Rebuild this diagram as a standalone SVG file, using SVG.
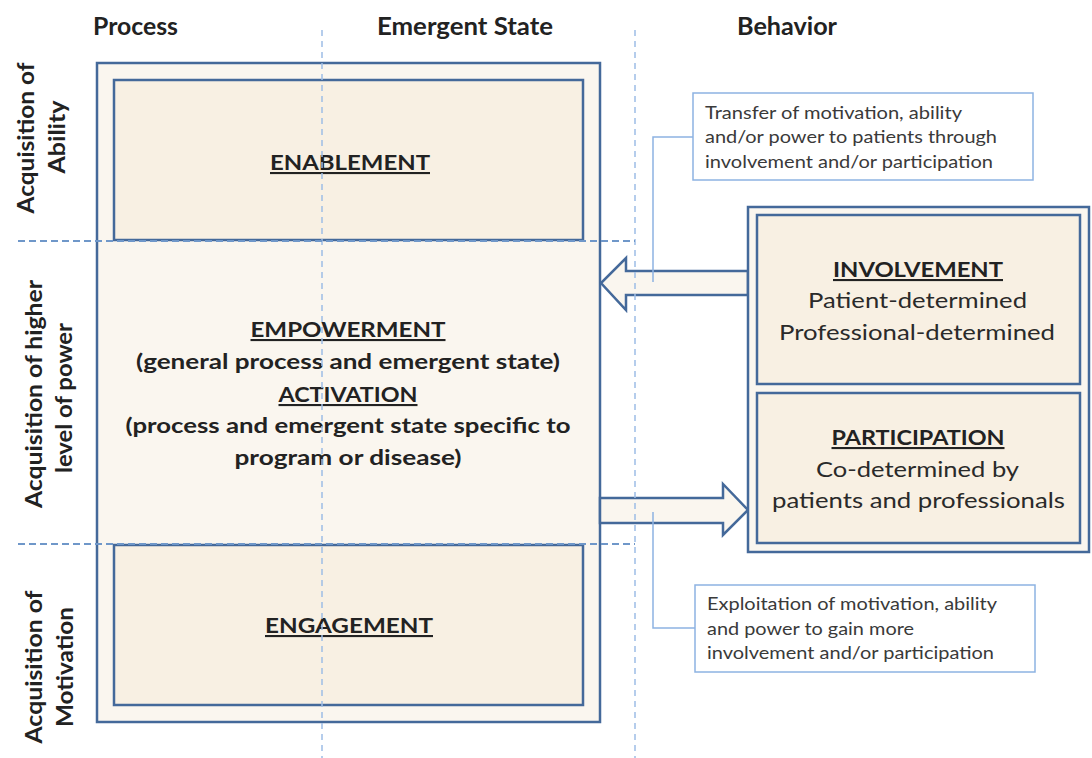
<svg xmlns="http://www.w3.org/2000/svg" width="1092" height="758" viewBox="0 0 1092 758">
<style>
  .hdr{font-family:Lato,"Liberation Sans",sans-serif;font-weight:bold;font-size:24px;fill:#222}
  .side{font-family:Lato,"Liberation Sans",sans-serif;font-weight:bold;font-size:22px;fill:#222}
  .b{font-family:Lato,"Liberation Sans",sans-serif;font-weight:bold;font-size:21px;fill:#222;text-anchor:middle}
  .u{text-decoration:underline}
  .r{font-family:Lato,"Liberation Sans",sans-serif;font-size:22px;fill:#2a2a2a;text-anchor:middle}
  .c{font-family:Lato,"Liberation Sans",sans-serif;font-size:16.5px;fill:#3a3a3a}
  .box{stroke:#44699a;stroke-width:2.5}
  .outer{fill:#faf6ef}
  .inner{fill:#f8f0e3}
  .call{fill:#ffffff;stroke:#8db3e2;stroke-width:1.5}
  .lead{fill:none;stroke:#8db3e2;stroke-width:1.5}
  .arrow{fill:#faf6ef;stroke:#44699a;stroke-width:2.5;stroke-linejoin:miter}
  .vdash{stroke:#9dbde6;stroke-width:1.5;stroke-dasharray:6 5;fill:none}
  .hdash{stroke:#6f97c9;stroke-width:1.8;stroke-dasharray:7 4;fill:none}
</style>

<g id="headers">
  <text class="hdr" x="93" y="35" textLength="85" lengthAdjust="spacingAndGlyphs">Process</text>
  <text class="hdr" x="377" y="35" textLength="176" lengthAdjust="spacingAndGlyphs">Emergent State</text>
  <text class="hdr" x="737" y="35" textLength="100" lengthAdjust="spacingAndGlyphs">Behavior</text>
</g>

<g id="row-labels">
  <text class="side" text-anchor="middle" transform="translate(34,138) rotate(-90)" textLength="151" lengthAdjust="spacingAndGlyphs">Acquisition of</text>
  <text class="side" text-anchor="middle" transform="translate(65,137) rotate(-90)" textLength="73" lengthAdjust="spacingAndGlyphs">Ability</text>
  <text class="side" text-anchor="middle" transform="translate(42,394) rotate(-90)" textLength="228" lengthAdjust="spacingAndGlyphs">Acquisition of higher</text>
  <text class="side" text-anchor="middle" transform="translate(72,398) rotate(-90)" textLength="150" lengthAdjust="spacingAndGlyphs">level of power</text>
  <text class="side" text-anchor="middle" transform="translate(42,667) rotate(-90)" textLength="153" lengthAdjust="spacingAndGlyphs">Acquisition of</text>
  <text class="side" text-anchor="middle" transform="translate(73,667) rotate(-90)" textLength="120" lengthAdjust="spacingAndGlyphs">Motivation</text>
</g>

<g id="empowerment">
  <rect class="box outer" x="97" y="63" width="503" height="659"/>
  <text class="b u" x="348" y="337" textLength="195" lengthAdjust="spacingAndGlyphs">EMPOWERMENT</text>
  <text class="b" x="348" y="369" textLength="424" lengthAdjust="spacingAndGlyphs">(general process and emergent state)</text>
  <text class="b u" x="348" y="402" textLength="139" lengthAdjust="spacingAndGlyphs">ACTIVATION</text>
  <text class="b" x="348" y="433" textLength="445" lengthAdjust="spacingAndGlyphs">(process and emergent state specific to</text>
  <text class="b" x="348" y="465" textLength="227" lengthAdjust="spacingAndGlyphs">program or disease)</text>
</g>

<g id="enablement">
  <rect class="box inner" x="114" y="80" width="469" height="160"/>
  <text class="b u" x="350" y="170" textLength="160" lengthAdjust="spacingAndGlyphs">ENABLEMENT</text>
</g>

<g id="engagement">
  <rect class="box inner" x="114" y="545" width="469" height="160"/>
  <text class="b u" x="349" y="633" textLength="168" lengthAdjust="spacingAndGlyphs">ENGAGEMENT</text>
</g>

<g id="connectors">
  <polygon class="arrow" points="748,271 626,271 626,258 601,283 626,310 626,295 748,295"/>
  <polygon class="arrow" points="600,498 723,498 723,484 748,510 723,535 723,523 600,523"/>
  <polyline class="lead" points="693,137 653,137 653,282"/>
  <polyline class="lead" points="695,628 653,628 653,512"/>
</g>

<g id="behavior">
  <rect class="box outer" x="748" y="207" width="341" height="345"/>
</g>

<g id="involvement">
  <rect class="box inner" x="757" y="215" width="323" height="169"/>
  <text class="b u" x="918" y="277" textLength="170" lengthAdjust="spacingAndGlyphs">INVOLVEMENT</text>
  <text class="r" x="917.5" y="308" textLength="219" lengthAdjust="spacingAndGlyphs">Patient-determined</text>
  <text class="r" x="917" y="340" textLength="276" lengthAdjust="spacingAndGlyphs">Professional-determined</text>
</g>

<g id="participation">
  <rect class="box inner" x="757" y="393" width="323" height="150"/>
  <text class="b u" x="918" y="445" textLength="173" lengthAdjust="spacingAndGlyphs">PARTICIPATION</text>
  <text class="r" x="917.5" y="477" textLength="203" lengthAdjust="spacingAndGlyphs">Co-determined by</text>
  <text class="r" x="918.5" y="508" textLength="293" lengthAdjust="spacingAndGlyphs">patients and professionals</text>
</g>

<g id="callout-transfer">
  <rect class="call" x="693" y="93" width="340" height="87"/>
  <text class="c" x="705" y="119" textLength="257" lengthAdjust="spacingAndGlyphs">Transfer of motivation, ability</text>
  <text class="c" x="705" y="143" textLength="292" lengthAdjust="spacingAndGlyphs">and/or power to patients through</text>
  <text class="c" x="705" y="168" textLength="288" lengthAdjust="spacingAndGlyphs">involvement and/or participation</text>
</g>

<g id="callout-exploitation">
  <rect class="call" x="695" y="585" width="340" height="87"/>
  <text class="c" x="707" y="610" textLength="290" lengthAdjust="spacingAndGlyphs">Exploitation of motivation, ability</text>
  <text class="c" x="707" y="635" textLength="207" lengthAdjust="spacingAndGlyphs">and power to gain more</text>
  <text class="c" x="707" y="659" textLength="287" lengthAdjust="spacingAndGlyphs">involvement and/or participation</text>
</g>

<g id="grid">
  <line class="vdash" x1="322" y1="30" x2="322" y2="758"/>
  <line class="vdash" x1="635" y1="30" x2="635" y2="758"/>
  <line class="hdash" x1="18" y1="241" x2="635" y2="241"/>
  <line class="hdash" x1="18" y1="544" x2="635" y2="544"/>
</g>
</svg>
